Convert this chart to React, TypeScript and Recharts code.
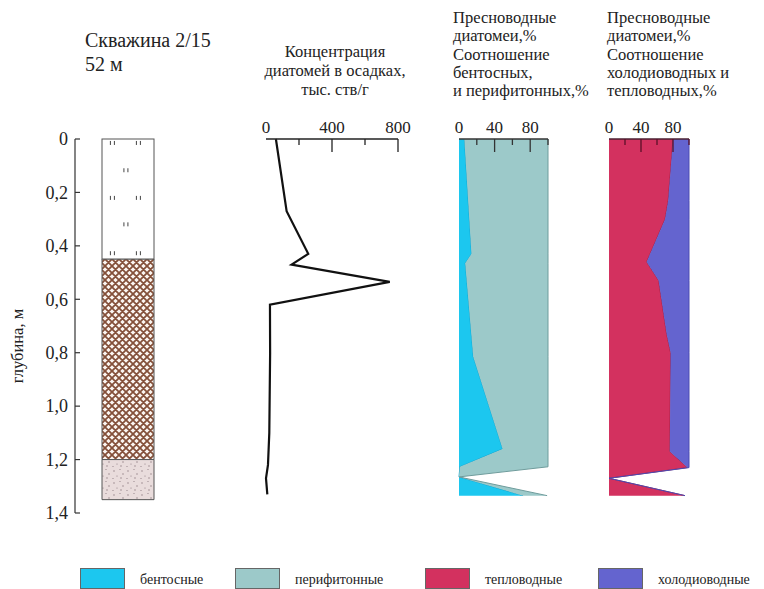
import React from 'react';
import { AreaChart, Area, BarChart, Bar, LineChart, Line, XAxis, YAxis } from 'recharts';

// depth scale of the core, m
const depthTicks = [0, 0.2, 0.4, 0.6, 0.8, 1.0, 1.2, 1.4];

// lithology, layer thickness in m from the top
const wellName = ['2/15'];
const siltThickness = [0.45];
const clayThickness = [0.75];
const sandThickness = [0.15];

// diatom concentration, thousand valves per gram
const concDepth = [0, 0.27, 0.43, 0.47, 0.535, 0.62, 0.8, 1.1, 1.22, 1.27, 1.33];
const concValue = [60, 125, 256, 155, 750, 24, 25, 20, 12, 0, 8];
const concTicks = [0, 200, 400, 600, 800];

// benthic / periphytic freshwater diatoms, %
const ecoDepth = [0, 0.43, 0.465, 0.815, 1.16, 1.227, 1.265, 1.335];
const benthic = [6, 14, 7, 16, 49, 1, 0, 72];
const periphytic = [94, 86, 93, 84, 51, 99, 0, 27];

// warm-water / cold-water freshwater diatoms, %
const tempDepth = [0, 0.23, 0.3, 0.46, 0.53, 0.73, 0.8, 1.17, 1.23, 1.27, 1.335];
const warmWater = [80, 74, 70, 47, 62, 72, 77, 76, 98, 0, 95];
const coldWater = [20, 26, 30, 53, 38, 28, 23, 24, 2, 0, 0];

const pctTicks = [0, 20, 40, 60, 80, 100];

const legendLabels = ['бентосные', 'перифитонные', 'тепловодные', 'холодиоводные'];

const colors = {
  benthic: '#1cc7ef',
  periphytic: '#9cc9c9',
  warm: '#d3315f',
  cold: '#6464cf',
};
const legendColors = [colors.benthic, colors.periphytic, colors.warm, colors.cold];

const FONT = '"Liberation Serif", "Times New Roman", serif';

const litho = wellName.map((w, i) => ({
  well: w,
  silt: siltThickness[i],
  clay: clayThickness[i],
  sand: sandThickness[i],
}));
const concData = concDepth.map((d, i) => ({ depth: d, value: concValue[i] }));
const ecoData = ecoDepth.map((d, i) => ({ depth: d, benthic: benthic[i], periphytic: periphytic[i] }));
const tempData = tempDepth.map((d, i) => ({ depth: d, warm: warmWater[i], cold: coldWater[i] }));

const fmtDepth = (v: number) => (v === 0 ? '0' : v.toFixed(1).replace('.', ','));

// left depth axis: ticks point into the plot, labels on the outside
const DepthTick = (props: any) => {
  const { x, y, payload } = props;
  return (
    <g>
      <line x1={x + 5} x2={x + 10} y1={y} y2={y} stroke="#333" strokeWidth={1.2} />
      <text x={x - 2} y={y} dy="0.35em" textAnchor="end" fontFamily={FONT} fontSize={18} fill="#222">
        {fmtDepth(payload.value)}
      </text>
    </g>
  );
};

// top scale: short ticks hanging down, longer ones at the labelled values
const TopTick = (props: any) => {
  const { x, y, payload, labels, stroke } = props;
  const v = payload.value;
  const major = labels.includes(v);
  return (
    <g>
      {v > 0 && (
        <line x1={x} x2={x} y1={y + 6} y2={y + 6 + (major ? 13 : 6)} stroke={stroke} strokeWidth={1.3} />
      )}
      {major && (
        <text x={x} y={y} textAnchor="middle" fontFamily={FONT} fontSize={17} fill="#222">
          {v}
        </text>
      )}
    </g>
  );
};

// upper layer of diatom ooze: white with small diatom marks
const SiltShape = (props: any) => {
  const { x, width } = props;
  // the depth axis is reversed, so the bar may come with a negative height
  const top = props.height < 0 ? props.y + props.height : props.y;
  const height = Math.abs(props.height);
  const rows = [0.033, 0.26, 0.49, 0.71, 0.95];
  const marks: React.ReactElement[] = [];
  rows.forEach((r, i) => {
    const cols = i % 2 === 0 ? [0.2, 0.7] : [0.46];
    cols.forEach((c, j) => {
      const mx = x + c * width;
      const my = top + r * height;
      marks.push(
        <g key={`${i}-${j}`} stroke="#444" strokeWidth={1}>
          <line x1={mx - 2} x2={mx - 2} y1={my - 2} y2={my + 2} />
          <line x1={mx + 2} x2={mx + 2} y1={my - 2} y2={my + 2} />
        </g>
      );
    });
  });
  return (
    <g>
      <rect x={x} y={top} width={width} height={height} fill="#fff" stroke="#555" strokeWidth={1} />
      {marks}
    </g>
  );
};

const Title = ({ left, top, width, align, lineHeight, size, children }: any) => (
  <div
    style={{
      position: 'absolute',
      left,
      top,
      width,
      textAlign: align,
      fontFamily: FONT,
      fontSize: size,
      lineHeight: `${lineHeight}px`,
      color: '#222',
      whiteSpace: 'pre',
    }}
  >
    {children}
  </div>
);

export default function App() {
  const legendX = [80, 235, 425, 598];
  return (
    <div style={{ position: 'absolute', left: 0, top: 0, width: 764, height: 589, background: '#fff', overflow: 'hidden' }}>
      <Title left={85} top={28} width={170} align="left" lineHeight={24} size={20}>
        {'Скважина 2/15\n52 м'}
      </Title>
      <Title left={235} top={42} width={200} align="center" lineHeight={19} size={16.5}>
        {'Концентрация\nдиатомей в осадках,\nтыс. ств/г'}
      </Title>
      <Title left={453} top={9} width={160} align="left" lineHeight={18.25} size={16.5}>
        {'Пресноводные\nдиатомеи,%\nСоотношение\nбентосных,\nи перифитонных,%'}
      </Title>
      <Title left={607} top={9} width={157} align="left" lineHeight={18.25} size={16.5}>
        {'Пресноводные\nдиатомеи,%\nСоотношение\nхолодиоводных и\nтепловодных,%'}
      </Title>

      <div
        style={{
          position: 'absolute',
          left: 18,
          top: 346,
          transform: 'translate(-50%, -50%) rotate(-90deg)',
          fontFamily: FONT,
          fontSize: 16.5,
          color: '#222',
          whiteSpace: 'nowrap',
        }}
      >
        глубина, м
      </div>

      {/* depth axis and lithological column */}
      <div style={{ position: 'absolute', left: 0, top: 0 }}>
        <BarChart width={170} height={589} data={litho} margin={{ top: 139, right: 16, bottom: 76, left: 0 }} barCategoryGap={0}>
          <defs>
            <pattern id="clayHatch" width={7} height={7} patternUnits="userSpaceOnUse">
              <rect width={7} height={7} fill="#fbf6f2" />
              <path d="M0,0 L7,7 M7,0 L0,7 M-1,6 L1,8 M6,-1 L8,1 M-1,1 L1,-1 M6,8 L8,6" stroke="#84503a" strokeWidth={1.8} />
            </pattern>
            <pattern id="sandDots" width={14} height={12} patternUnits="userSpaceOnUse">
              <rect width={14} height={12} fill="#e9dcdc" />
              <circle cx={2} cy={3} r={0.7} fill="#8e7c82" />
              <circle cx={8} cy={1.5} r={0.6} fill="#8e7c82" />
              <circle cx={11} cy={6} r={0.7} fill="#8e7c82" />
              <circle cx={5} cy={8} r={0.6} fill="#8e7c82" />
              <circle cx={1} cy={10.5} r={0.6} fill="#8e7c82" />
              <circle cx={9} cy={10} r={0.7} fill="#8e7c82" />
            </pattern>
          </defs>
          <XAxis dataKey="well" type="category" hide padding={{ left: 27, right: 0 }} />
          <YAxis
            type="number"
            domain={[0, 1.4]}
            ticks={depthTicks}
            reversed
            width={75}
            interval={0}
            tickSize={0}
            tickMargin={5}
            tickLine={false}
            axisLine={{ stroke: '#333', strokeWidth: 1.2 }}
            tick={(p: any) => <DepthTick {...p} />}
          />
          <Bar dataKey="silt" stackId="core" isAnimationActive={false} shape={(p: any) => <SiltShape {...p} />} />
          <Bar dataKey="clay" stackId="core" fill="url(#clayHatch)" stroke="#555" strokeWidth={1} isAnimationActive={false} />
          <Bar dataKey="sand" stackId="core" fill="url(#sandDots)" stroke="#555" strokeWidth={1} isAnimationActive={false} />
        </BarChart>
      </div>

      {/* diatom concentration */}
      <div style={{ position: 'absolute', left: 200, top: 0 }}>
        <LineChart layout="vertical" width={220} height={589} data={concData} margin={{ top: 0, right: 22, bottom: 76, left: 66 }}>
          <YAxis
            type="number"
            dataKey="depth"
            domain={[0, 1.4]}
            width={0}
            tick={false}
            tickLine={false}
            axisLine={{ stroke: '#c9c9c9', strokeWidth: 1.2 }}
          />
          <Line type="linear" dataKey="value" stroke="#111" strokeWidth={2.2} dot={false} isAnimationActive={false} />
          <XAxis
            type="number"
            orientation="top"
            domain={[0, 800]}
            ticks={concTicks}
            interval={0}
            height={139}
            tickSize={0}
            tickMargin={6}
            tickLine={false}
            axisLine={{ stroke: '#222', strokeWidth: 1.3 }}
            tick={(p: any) => <TopTick {...p} labels={[0, 400, 800]} stroke="#222" />}
          />
        </LineChart>
      </div>

      {/* benthic vs periphytic */}
      <div style={{ position: 'absolute', left: 430, top: 0 }}>
        <AreaChart layout="vertical" width={140} height={589} data={ecoData} margin={{ top: 0, right: 22, bottom: 76, left: 29 }}>
          <YAxis
            type="number"
            dataKey="depth"
            domain={[0, 1.4]}
            width={0}
            tick={false}
            tickLine={false}
            axisLine={{ stroke: '#c9c9c9', strokeWidth: 1.2 }}
          />
          <Area type="linear" dataKey="benthic" stackId="eco" fill={colors.benthic} fillOpacity={1} stroke="#12a9d2" strokeWidth={1} isAnimationActive={false} />
          <Area type="linear" dataKey="periphytic" stackId="eco" fill={colors.periphytic} fillOpacity={1} stroke="#6f9c9c" strokeWidth={1} isAnimationActive={false} />
          <XAxis
            type="number"
            orientation="top"
            domain={[0, 100]}
            ticks={pctTicks}
            interval={0}
            height={139}
            tickSize={0}
            tickMargin={6}
            tickLine={false}
            axisLine={{ stroke: '#333', strokeWidth: 1.3 }}
            tick={(p: any) => <TopTick {...p} labels={[0, 40, 80]} stroke="#333" />}
          />
        </AreaChart>
      </div>

      {/* warm-water vs cold-water */}
      <div style={{ position: 'absolute', left: 580, top: 0 }}>
        <AreaChart layout="vertical" width={140} height={589} data={tempData} margin={{ top: 0, right: 31, bottom: 76, left: 29 }}>
          <YAxis
            type="number"
            dataKey="depth"
            domain={[0, 1.4]}
            width={0}
            tick={false}
            tickLine={false}
            axisLine={{ stroke: '#c9c9c9', strokeWidth: 1.2 }}
          />
          <Area type="linear" dataKey="warm" stackId="temp" fill={colors.warm} fillOpacity={1} stroke="#a81e48" strokeWidth={1} isAnimationActive={false} />
          <Area type="linear" dataKey="cold" stackId="temp" fill={colors.cold} fillOpacity={1} stroke="#4b4bb2" strokeWidth={1} isAnimationActive={false} />
          <XAxis
            type="number"
            orientation="top"
            domain={[0, 100]}
            ticks={pctTicks}
            interval={0}
            height={139}
            tickSize={0}
            tickMargin={6}
            tickLine={false}
            axisLine={{ stroke: '#4a2030', strokeWidth: 1.3 }}
            tick={(p: any) => <TopTick {...p} labels={[0, 40, 80]} stroke="#5a1028" />}
          />
        </AreaChart>
      </div>

      {/* legend */}
      {legendLabels.map((label, i) => (
        <div key={label} style={{ position: 'absolute', left: legendX[i], top: 568 }}>
          <div style={{ position: 'absolute', left: 0, top: 0, width: 45, height: 21, background: legendColors[i], border: '1px solid #666', boxSizing: 'border-box' }} />
          <div style={{ position: 'absolute', left: 60, top: 3, fontFamily: FONT, fontSize: 14, lineHeight: '18px', color: '#222', whiteSpace: 'nowrap' }}>
            {label}
          </div>
        </div>
      ))}
    </div>
  );
}
